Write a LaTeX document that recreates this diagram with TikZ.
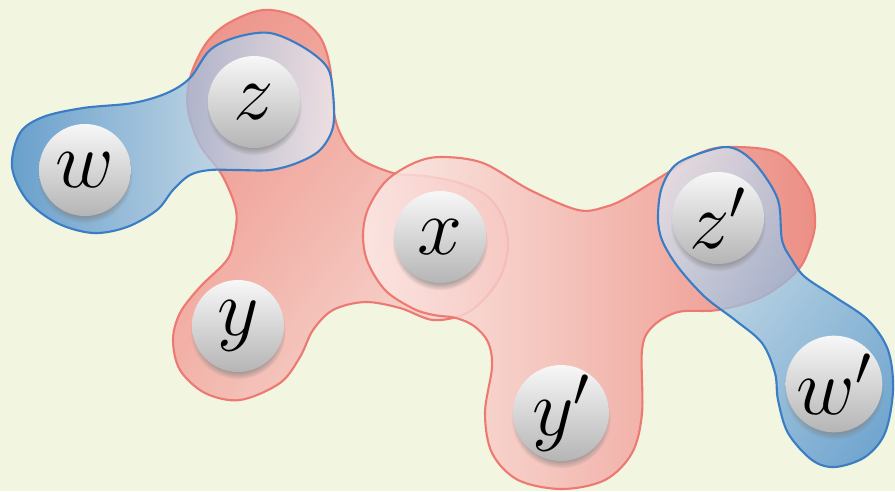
\RequirePackage{fix-cm}
\documentclass[tikz,border=0pt]{standalone}
\usetikzlibrary{shadows,shadings}

\definecolor{paper}{RGB}{242,245,224}
\definecolor{redline}{RGB}{236,122,114}
\definecolor{reddark}{RGB}{236,126,118}
\definecolor{redmid}{RGB}{243,170,162}
\definecolor{redlight}{RGB}{252,234,231}
\definecolor{blueline}{RGB}{58,125,197}
\definecolor{bluedark}{RGB}{60,132,198}
\definecolor{bluemid}{RGB}{140,185,222}
\definecolor{bluelight}{RGB}{236,240,246}

\begin{document}
\begin{tikzpicture}[x=0.02cm, y=-0.02cm]
    \tikzset{ball/.style={circle,minimum size=1.84cm,inner sep=0pt,
        top color=gray!6,bottom color=gray!58,
        circular drop shadow={shadow xshift=0pt,shadow yshift=-3pt,shadow scale=1.04,opacity=0.6},
        font=\fontsize{46}{50}\selectfont},
      redhedge/.style={draw=redline,line width=1.2pt,fill opacity=0.85},
      bluehedge/.style={draw=blueline,line width=1.2pt,fill opacity=0.75}}

    \useasboundingbox (0,0) rectangle (895,491);
    \fill[paper] (0,0) rectangle (895,491);

    % Hyperedge {z, y, x}
    \shadedraw[redhedge, upper left=reddark, upper right=redmid, lower left=redmid, lower right=redlight]
      plot[smooth cycle, tension=0.55] coordinates {
        (263,10) (297,17) (320,37) (330,67) (333,107) (340,133) (357,157) (393,173)
        (425,176) (460,183) (487,196) (503,218) (508,246) (502,273) (487,296) (465,314)
        (433,320) (400,308) (365,302) (333,310) (313,330) (300,357) (280,383) (240,400)
        (205,393) (180,370) (173,340) (180,313) (200,287) (227,260) (234,238) (236,210)
        (222,175) (200,145) (188,110) (190,78) (205,45) (227,24)};

    % Hyperedge {x, y', z'}
    \shadedraw[redhedge, left color=redlight, right color=reddark]
      plot[smooth cycle, tension=0.55] coordinates {
        (441,157) (483,163) (530,190) (578,210) (605,207) (628,197) (672,170) (700,153)
        (728,147) (778,153) (808,187) (815,217) (812,240) (798,270) (762,297) (718,310)
        (678,312) (652,327) (642,350) (642,413) (632,453) (605,480) (562,489) (518,480)
        (492,453) (485,413) (492,367) (488,342) (474,326) (456,318) (434,315) (414,309)
        (386,291) (368,263) (363,236) (368,209) (386,181) (414,163)};

    % Hyperedge {w, z}
    \shadedraw[bluehedge, left color=bluedark, right color=bluelight]
      plot[smooth cycle, tension=0.55] coordinates {
        (210,50) (237,37) (270,33) (303,47) (327,67) (333,93) (333,127) (320,150)
        (297,163) (270,170) (237,170) (210,170) (190,175) (173,190) (157,210) (127,227)
        (93,233) (57,223) (27,200) (12,167) (20,133) (43,117) (83,108) (133,103)
        (167,93) (190,78)};

    % Hyperedge {z', w'}
    \shadedraw[bluehedge, upper left=bluelight, upper right=bluemid, lower left=bluemid, lower right=bluedark]
      plot[smooth cycle, tension=0.55] coordinates {
        (718,148) (678,163) (662,187) (658,217) (662,240) (678,267) (705,297) (735,320)
        (762,343) (775,373) (778,400) (788,433) (812,460) (835,467) (865,457) (885,433)
        (893,390) (888,350) (868,320) (835,297) (805,277) (792,260) (782,240) (778,200)
        (758,167) (738,150)};

    % Vertices
    \node[ball] (w) at (85,170) {$w$};
    \node[ball] (z) at (254,102) {$z$};
    \node[ball] (x) at (440,237) {$x$};
    \node[ball] (y) at (238,326) {$y$};
    \node[ball] (z2) at (718,218) {$z'$};
    \node[ball] (y2) at (561,413) {$y'$};
    \node[ball] (w2) at (834,384) {$w'$};

\end{tikzpicture}
\end{document}
